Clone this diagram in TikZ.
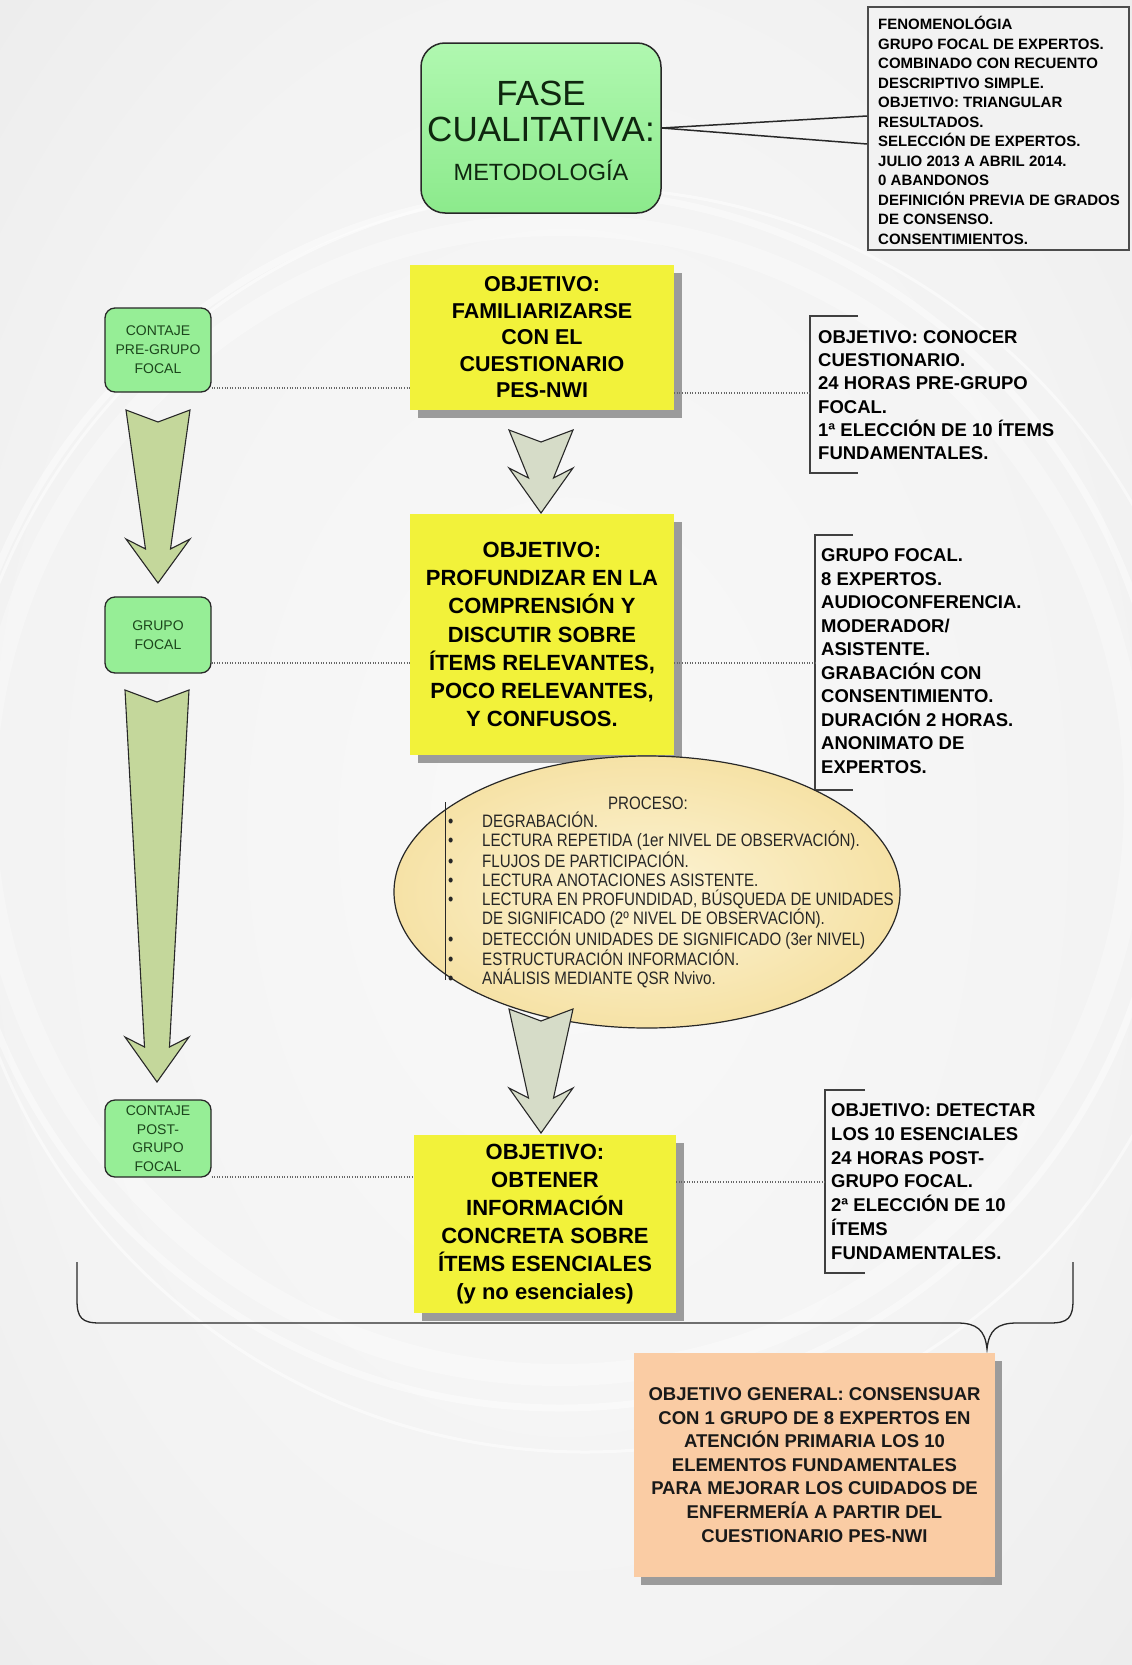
\documentclass[tikz,border=0pt]{standalone}
\usepackage{fontspec}
\setmainfont{Liberation Sans}
\newfontfamily\narrowsans[FakeStretch=0.84]{Liberation Sans}
\usetikzlibrary{shapes.geometric,shadows}
\definecolor{bgmid}{RGB}{249,249,249}
\definecolor{bgedge}{RGB}{218,218,218}
\definecolor{yel}{RGB}{242,242,58}
\definecolor{grnL}{RGB}{176,248,176}
\definecolor{grnD}{RGB}{140,234,140}
\definecolor{grnS}{RGB}{150,238,150}
\definecolor{txtg}{RGB}{28,70,28}
\definecolor{peach}{RGB}{250,204,164}
\definecolor{arrL}{RGB}{196,215,155}
\definecolor{arrM}{RGB}{214,220,200}
\definecolor{tanI}{RGB}{252,243,212}
\definecolor{tanO}{RGB}{246,226,166}
\definecolor{edge}{RGB}{40,40,40}
\pgfdeclareradialshading{bgshade}{\pgfpoint{0bp}{0bp}}{color(0bp)=(bgmid); color(25bp)=(bgmid!80!bgedge); color(55bp)=(bgmid!25!bgedge); color(72bp)=(bgedge)}
\newcommand\bul{\makebox[34pt][l]{•}}
\newcommand\blockarrow[5]{%
  \filldraw[#5] ({#1-32},#2) -- (#1,{#2+12}) -- ({#1+32},#2) -- ({#1+12.5},{#3+10}) -- ({#1+32},#3) -- (#1,#4) -- ({#1-32},#3) -- ({#1-12.5},{#3+10}) -- cycle;}
\begin{document}
\begin{tikzpicture}[x=1pt,y=-1pt,
  grnbox/.style={draw=edge,line width=1.3pt,fill=grnS,rounded corners=10pt,minimum width=106,inner sep=0,align=center,text=txtg,font=\fontsize{14}{19}\selectfont},
  yelbox/.style={fill=yel,minimum width=264,inner sep=0,align=center,font=\bfseries\fontsize{22}{28.2}\selectfont,drop shadow={shadow xshift=8pt,shadow yshift=-8pt,fill=black!45,opacity=.85}},
  btext/.style={anchor=west,align=left,inner sep=0,font=\bfseries\fontsize{18.5}{23.5}\selectfont},
  brk/.style={draw=black!75,line width=2.2pt},
  dotline/.style={draw=black!60,line width=1.3pt,dash pattern=on 1pt off 1.6pt},
  arrowL/.style={fill=arrL,draw=edge,line width=1.1pt,line join=miter},
  arrowM/.style={fill=arrM,draw=edge,line width=1.1pt,line join=miter}
]
\useasboundingbox (0,0) rectangle (1132,1665);
% background
\shade[shading=bgshade] (0,0) rectangle (1132,1665);
\begin{scope}
\clip (0,0) rectangle (1132,1665);
\draw[white,line width=22pt,opacity=.3] (560,800) circle[radius=575];
\draw[white,line width=7pt,opacity=.45] (560,800) circle[radius=608];
\draw[white,line width=3pt,opacity=.5] (585,820) circle[radius=632];
\end{scope}

% brace
\coordinate (cusp) at (987,1349);
\draw[edge,line width=1.3pt] (77,1262) -- (77,1300) .. controls (77,1318) and (82,1323) .. (100,1323) -- (957,1323) .. controls (977,1323) and (985,1330) .. (cusp) .. controls (989,1330) and (997,1323) .. (1017,1323) -- (1050,1323) .. controls (1068,1323) and (1073,1318) .. (1073,1300) -- (1073,1262);

% top green box
\node[draw=edge,line width=1.5pt,rounded corners=24pt,top color=grnL,bottom color=grnD,minimum width=240,minimum height=170,inner sep=0] (fase) at (541,128) {};
\node[anchor=base,inner sep=0,text=txtg!55!black,font=\fontsize{35}{35}\selectfont] (fase1) at (541,105.5) {FASE};
\node[anchor=base,inner sep=0,text=txtg!55!black,font=\fontsize{35}{35}\selectfont] (fase2) at (541,141.5) {CUALITATIVA:};
\node[anchor=base,inner sep=0,text=txtg!55!black,font=\fontsize{23.5}{24}\selectfont] (fase3) at (541,180.5) {METODOLOGÍA};

% info box
\node[draw=black!70,line width=2pt,fill=black!5,minimum width=261,minimum height=243,inner sep=0] (info) at (998.5,128.5) {};
\node[anchor=west,align=left,inner sep=0,font=\bfseries\fontsize{15}{19.5}\selectfont] (infot) at (878,130.5) {FENOMENOLÓGIA\\GRUPO FOCAL DE EXPERTOS.\\COMBINADO CON RECUENTO\\DESCRIPTIVO SIMPLE.\\OBJETIVO: TRIANGULAR\\RESULTADOS.\\SELECCIÓN DE EXPERTOS.\\JULIO 2013 A ABRIL 2014.\\0 ABANDONOS\\DEFINICIÓN PREVIA DE GRADOS\\DE CONSENSO.\\CONSENTIMIENTOS.};
\draw[edge,line width=1.5pt] ([yshift=12.5pt]info.west) -- (fase.east) -- ([yshift=-15.5pt]info.west);

% green small boxes
\node[grnbox,minimum height=84] (g1) at (158,350) {CONTAJE\\PRE-GRUPO\\FOCAL};
\node[grnbox,minimum height=76] (g2) at (158,635) {GRUPO\\FOCAL};
\node[grnbox,minimum height=77,font=\fontsize{14}{18.5}\selectfont] (g3) at (158,1138.5) {CONTAJE\\POST-\\GRUPO\\FOCAL};

% yellow boxes
\node[yelbox,minimum height=145,font=\bfseries\fontsize{21.5}{26.5}\selectfont] (y1) at (542,337.5) {OBJETIVO:\\FAMILIARIZARSE\\CON EL\\CUESTIONARIO\\PES-NWI};
\node[yelbox,minimum height=241] (y2) at (542,634.5) {OBJETIVO:\\PROFUNDIZAR EN LA\\COMPRENSIÓN Y\\DISCUTIR SOBRE\\ÍTEMS RELEVANTES,\\POCO RELEVANTES,\\Y CONFUSOS.};
\node[yelbox,minimum width=262,minimum height=178,font=\bfseries\fontsize{22}{28}\selectfont] (y3) at (545,1224) {OBJETIVO:\\OBTENER\\INFORMACIÓN\\CONCRETA SOBRE\\ÍTEMS ESENCIALES\\(y no esenciales)};

% brackets
\coordinate (b1t) at (810,316); \coordinate (b1b) at (810,473);
\coordinate (b2t) at (815,535); \coordinate (b2b) at (815,790);
\coordinate (b3t) at (825,1090); \coordinate (b3b) at (825,1273);
\draw[brk] ([xshift=48pt]b1t) -- (b1t) -- (b1b) -- ([xshift=48pt]b1b);
\draw[brk] ([xshift=38pt]b2t) -- (b2t) -- (b2b) -- ([xshift=38pt]b2b);
\draw[brk] ([xshift=40pt]b3t) -- (b3t) -- (b3b) -- ([xshift=40pt]b3b);
\node[btext,font=\bfseries\fontsize{18.5}{23.3}\selectfont] (bt1) at (818,395) {OBJETIVO: CONOCER\\CUESTIONARIO.\\24 HORAS PRE-GRUPO\\FOCAL.\\1ª ELECCIÓN DE 10 ÍTEMS\\FUNDAMENTALES.};
\node[btext] (bt2) at (821,661) {GRUPO FOCAL.\\8 EXPERTOS.\\AUDIOCONFERENCIA.\\MODERADOR/\\ASISTENTE.\\GRABACIÓN CON\\CONSENTIMIENTO.\\DURACIÓN 2 HORAS.\\ANONIMATO DE\\EXPERTOS.};
\node[btext,font=\bfseries\fontsize{18.5}{23.8}\selectfont] (bt3) at (831,1181.5) {OBJETIVO: DETECTAR\\LOS 10 ESENCIALES\\24 HORAS POST-\\GRUPO FOCAL.\\2ª ELECCIÓN DE 10\\ÍTEMS\\FUNDAMENTALES.};

% dotted connectors
\draw[dotline] (g1.east |- 0,388) -- (y1.west |- 0,388);
\draw[dotline] (y1.east |- 0,393) -- (b1t |- 0,393);
\draw[dotline] (g2.east |- 0,663) -- (y2.west |- 0,663);
\draw[dotline] (y2.east |- 0,663) -- (b2t |- 0,663);
\draw[dotline] (g3.east |- 0,1177) -- (y3.west |- 0,1177);
\draw[dotline] (y3.east |- 0,1182) -- (b3t |- 0,1182);

% process ellipse
\node[ellipse,draw=edge,line width=1.2pt,inner color=tanI,outer color=tanO,minimum width=506,minimum height=272,inner sep=0] (proc) at (647,892) {};
\draw[edge,line width=1pt] (445,802) -- (445,980);
\node[inner sep=0,font=\narrowsans\fontsize{18}{19.25}\selectfont,text=black!85] (proct) at (648,803) {PROCESO:};
\node[anchor=west,align=left,inner sep=0,text=black!85,font=\narrowsans\fontsize{18}{19.25}\selectfont] (plist) at (448,900) {\bul DEGRABACIÓN.\\\bul LECTURA REPETIDA (1er NIVEL DE OBSERVACIÓN).\\\bul FLUJOS DE PARTICIPACIÓN.\\\bul LECTURA ANOTACIONES ASISTENTE.\\\bul LECTURA EN PROFUNDIDAD, BÚSQUEDA DE UNIDADES\\\hspace*{34pt}DE SIGNIFICADO (2º NIVEL DE OBSERVACIÓN).\\\bul DETECCIÓN UNIDADES DE SIGNIFICADO (3er NIVEL)\\\bul ESTRUCTURACIÓN INFORMACIÓN.\\\bul ANÁLISIS MEDIANTE QSR Nvivo.};

% block arrows
\blockarrow{158}{410}{539}{583}{arrowL}
\blockarrow{157}{690}{1037}{1082}{arrowL}
\blockarrow{541}{430}{468}{513}{arrowM}
\blockarrow{541}{1009}{1088}{1133}{arrowM}

% general objective
\node[fill=peach,minimum width=361,minimum height=224,inner sep=0,align=center,font=\bfseries\fontsize{18.5}{23.6}\selectfont,text=black!90,drop shadow={shadow xshift=7pt,shadow yshift=-8pt,fill=black!45,opacity=.85}] (gen) at (814.5,1465) {OBJETIVO GENERAL: CONSENSUAR\\CON 1 GRUPO DE 8 EXPERTOS EN\\ATENCIÓN PRIMARIA LOS 10\\ELEMENTOS FUNDAMENTALES\\PARA MEJORAR LOS CUIDADOS DE\\ENFERMERÍA A PARTIR DEL\\CUESTIONARIO PES-NWI};
\end{tikzpicture}
\end{document}
